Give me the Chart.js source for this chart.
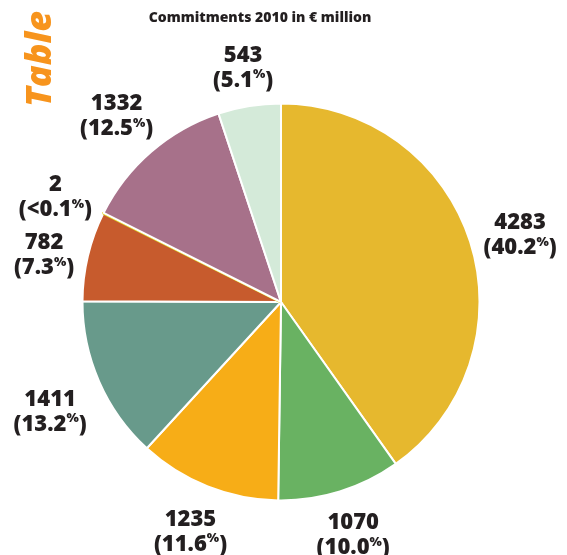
<!DOCTYPE html>
<html>
<head>
<meta charset="utf-8">
<title>Commitments 2010</title>
<script src="https://cdn.jsdelivr.net/npm/chart.js@4/dist/chart.umd.min.js"></script>
<style>
  html, body { margin: 0; padding: 0; background: #fff; }
  #wrap { width: 567px; height: 555px; }
</style>
</head>
<body>
<div id="wrap"><canvas id="myChart" width="567" height="555"></canvas></div>
<script>
const values = [4283, 1070, 1235, 1411, 782, 2, 1332, 543];
const shares = ["40.2", "10.0", "11.6", "13.2", "7.3", "<0.1", "12.5", "5.1"];
const colors = ["#e6b82e", "#69b262", "#f7ad17", "#689a8b", "#c75b2d", "#dcd41c", "#a7718a", "#d4ead9"];
const titleText = "Commitments 2010 in \u20ac million";
const sideText = "Table 1";

const labelFont = "800 22px 'Open Sans'";
const pctFont = "800 13px 'Open Sans'";
const ink = "#231f20";

// value + share labels placed just outside each slice
const outsideLabels = {
    id: "outsideLabels",
    afterDraw(chart) {
        const ctx = chart.ctx;
        const arcs = chart.getDatasetMeta(0).data;
        ctx.save();
        ctx.fillStyle = ink;
        ctx.textBaseline = "middle";
        arcs.forEach((arc, i) => {
            const mid = (arc.startAngle + arc.endAngle) / 2;
            const ux = Math.cos(mid), uy = Math.sin(mid);
            const top = String(values[i]);
            const head = "(" + shares[i];
            ctx.font = labelFont;
            const wTop = ctx.measureText(top).width;
            const wHead = ctx.measureText(head).width;
            const wClose = ctx.measureText(")").width;
            ctx.font = pctFont;
            const wPct = ctx.measureText("%").width;
            const wBot = wHead + wPct + wClose;
            const w = Math.max(wTop, wBot), h = 50;
            const d = arc.outerRadius + 10 + Math.abs(ux) * w / 2 + Math.abs(uy) * h / 2;
            // side labels sit a little lower than the slice's middle
            const cx = arc.x + ux * d, cy = arc.y + uy * d + 10 * ux * ux;

            ctx.font = labelFont;
            ctx.textAlign = "center";
            ctx.fillText(top, cx, cy - 12);
            let x = cx - wBot / 2;
            ctx.textAlign = "left";
            ctx.fillText(head, x, cy + 13);
            x += wHead;
            ctx.font = pctFont;
            ctx.fillText("%", x, cy + 7);
            x += wPct;
            ctx.font = labelFont;
            ctx.fillText(")", x, cy + 13);
        });
        ctx.restore();
    }
};

// heading and the rotated side tab
const headings = {
    id: "headings",
    afterDraw(chart) {
        const ctx = chart.ctx;
        ctx.save();
        ctx.fillStyle = ink;
        ctx.font = "800 14px 'Open Sans'";
        ctx.textAlign = "center";
        ctx.textBaseline = "middle";
        ctx.fillText(titleText, 260, 18);

        ctx.translate(51, 107);
        ctx.rotate(-Math.PI / 2);
        ctx.fillStyle = "#f7941d";
        ctx.font = "italic 800 36px 'Open Sans'";
        ctx.textAlign = "left";
        ctx.textBaseline = "alphabetic";
        ctx.fillText(sideText, 0, 0);
        ctx.restore();
    }
};

new Chart("myChart", {
    type: "pie",
    data: {
        labels: values.map(String),
        datasets: [{
            data: values,
            backgroundColor: colors,
            // the tiny slice keeps its own colour on the edge so it stays visible
            borderColor: colors.map((c, i) => values[i] < 10 ? c : "#ffffff"),
            borderWidth: values.map(v => v < 10 ? 3 : 2)
        }]
    },
    options: {
        responsive: false,
        animation: false,
        layout: { padding: { left: 81, right: 86, top: 102, bottom: 53 } },
        plugins: {
            legend: { display: false },
            tooltip: { enabled: false },
            title: { display: false }
        }
    },
    plugins: [outsideLabels, headings]
});
</script>
</body>
</html>
